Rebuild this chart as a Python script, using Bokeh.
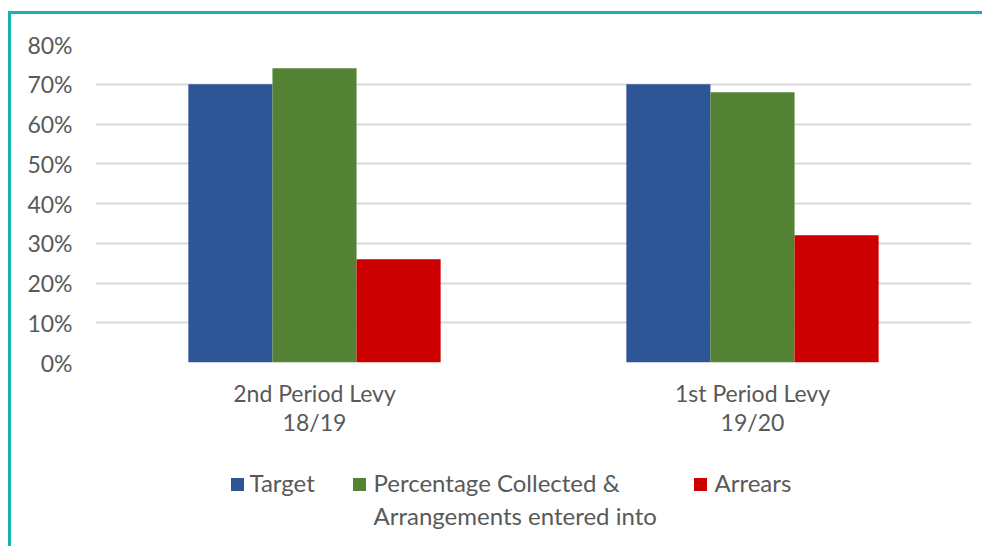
from bokeh.plotting import figure
from bokeh.layouts import column
from bokeh.models import (Range1d, FactorRange, FixedTicker, NumeralTickFormatter,
                          ColumnDataSource)
from bokeh.core.properties import value
from bokeh.transform import dodge
from bokeh.embed import file_html
from bokeh.resources import INLINE

categories = ["2nd Period Levy\n18/19", "1st Period Levy\n19/20"]
series_names = ["Target", "Percentage Collected &\nArrangements entered into", "Arrears"]
target = [0.70, 0.70]
collected = [0.74, 0.68]
arrears = [0.26, 0.32]
y_ticks = [0.0, 0.1, 0.2, 0.3, 0.4, 0.5, 0.6, 0.7, 0.8]
colors = ["#2E5595", "#548235", "#CC0000"]

FONT = "Lato"
TXT = "#595959"
FS = "23px"

src = ColumnDataSource(dict(cat=categories, target=target, collected=collected, arrears=arrears))

p = figure(x_range=FactorRange(*categories), y_range=Range1d(0, 0.8),
           width=971, height=438, output_backend="svg", toolbar_location=None,
           min_border_left=84, min_border_right=11, min_border_top=30, min_border_bottom=90)
p.outline_line_color = None
p.background_fill_color = "white"

bw = 0.192
p.vbar(x=dodge("cat", -bw, range=p.x_range), top="target", width=bw, source=src,
       fill_color=colors[0], line_color=None)
p.vbar(x=dodge("cat", 0, range=p.x_range), top="collected", width=bw, source=src,
       fill_color=colors[1], line_color=None)
p.vbar(x=dodge("cat", bw, range=p.x_range), top="arrears", width=bw, source=src,
       fill_color=colors[2], line_color=None)

p.xgrid.grid_line_color = None
p.ygrid.grid_line_color = "#D9D9D9"
p.ygrid.grid_line_width = 2
p.yaxis.ticker = FixedTicker(ticks=y_ticks)
p.yaxis.formatter = NumeralTickFormatter(format="0%")

for ax in (p.xaxis[0], p.yaxis[0]):
    ax.axis_line_color = None
    ax.major_tick_line_color = None
    ax.minor_tick_line_color = None
    ax.major_label_text_font = FONT
    ax.major_label_text_font_size = FS
    ax.major_label_text_color = TXT
p.yaxis.major_label_standoff = 17
p.xaxis.major_label_standoff = 10
p.xaxis.major_label_text_line_height = 1.07

# ---- legend strip below the chart (pixel-like coordinates: x from chart's left edge, y from top)
# the column aligns this strip's frame with the chart frame (84 px in from the left)
lg = figure(width=971, height=94, output_backend="svg", toolbar_location=None,
            x_range=Range1d(84, 960), y_range=Range1d(94, 0),
            x_axis_location=None, y_axis_location=None,
            min_border_left=0, min_border_right=0, min_border_top=0, min_border_bottom=0)
lg.outline_line_color = None
lg.xgrid.visible = False
lg.ygrid.visible = False

swatch_x = [226, 348, 689]     # layout: swatch centres
label_x = [238, 362, 703]      # layout: label left edges
swatch_y = 32
first_baseline = 30
line_gap = 33

lg.rect(x=swatch_x, y=[swatch_y] * 3, width=13, height=13,
        fill_color=colors, line_color=None)

tx, ty, tt = [], [], []
for name, lx in zip(series_names, label_x):
    for i, line in enumerate(name.split("\n")):
        tx.append(lx)
        ty.append(first_baseline + i * line_gap)
        tt.append(line)
lg.text(x=tx, y=ty, text=tt, text_font=value(FONT), text_font_size="24px",
        text_color=TXT, text_baseline="alphabetic", text_align="left")

layout = column(p, lg, spacing=0)
layout.margin = (11, 0, 0, 8)
layout.styles = {"border-top": "3px solid #19AFB9", "border-left": "3px solid #19AFB9"}

open("out.html", "w").write(file_html(layout, INLINE))
